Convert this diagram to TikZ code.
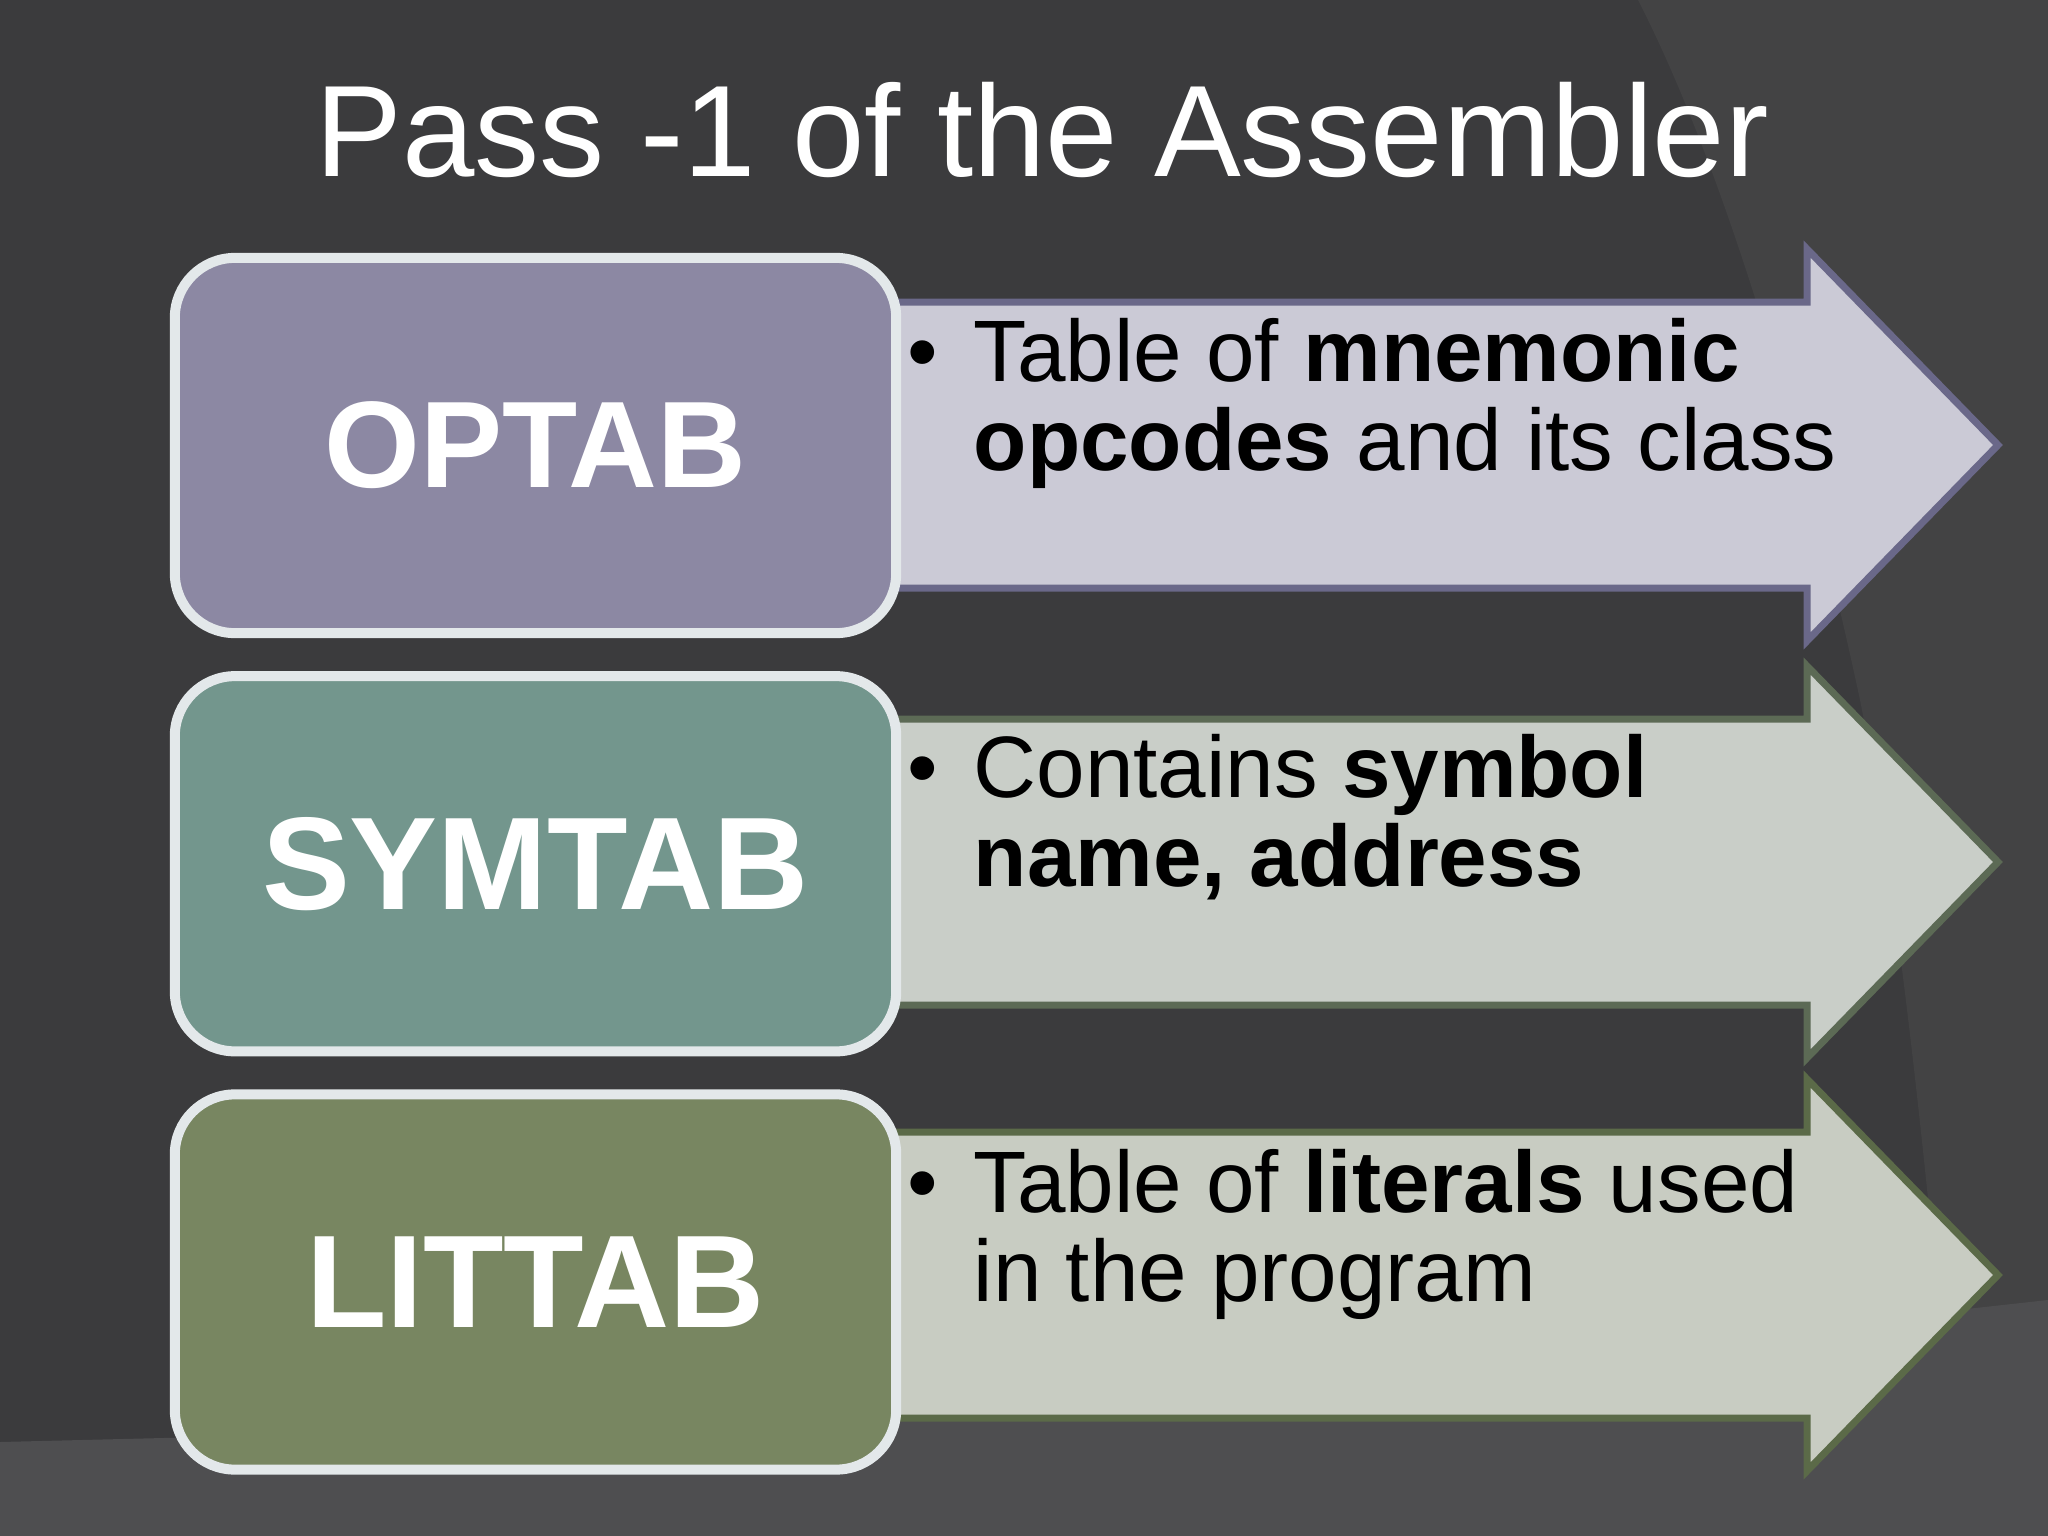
\documentclass[tikz,border=0pt]{standalone}
\usepackage{fontspec}
\setmainfont{Liberation Sans}
\usepackage{xcolor}
\usetikzlibrary{positioning}

\definecolor{slidebg}{HTML}{3B3B3D}
\definecolor{slidelight}{HTML}{434344}
\definecolor{slidefloor}{HTML}{4E4E50}
\definecolor{boxrim}{HTML}{E3E8EA}
\definecolor{optfill}{HTML}{8C88A3}
\definecolor{symfill}{HTML}{73968D}
\definecolor{litfill}{HTML}{788661}
\definecolor{optarrfill}{HTML}{CBCAD6}
\definecolor{optarrrim}{HTML}{6A6889}
\definecolor{symarrfill}{HTML}{C9CEC8}
\definecolor{symarrrim}{HTML}{5C6A55}
\definecolor{litarrfill}{HTML}{C8CCC2}
\definecolor{litarrrim}{HTML}{5B6A48}

\begin{document}
\begin{tikzpicture}[x=0.01cm,y=-0.01cm,node distance=0.33cm,
    tab/.style={draw=boxrim,line width=0.1cm,rounded corners=0.6cm,minimum width=7.21cm,minimum height=3.75cm,text=white,font=\bfseries\fontsize{37.5}{40}\selectfont},
    note/.style={anchor=north west,inner sep=0pt,align=left,font=\fontsize{24.8}{25.3}\selectfont},
    shaft/.style={line width=0.07cm,miter limit=20}]
  % slide background
  \fill[slidebg] (0,0) rectangle (2048,1536);
  \useasboundingbox (0,0) rectangle (2048,1536);
  \fill[slidelight] (1638,0) .. controls (1720,160) and (1800,420) .. (1860,700) .. controls (1900,900) and (1930,1200) .. (1960,1536) -- (2048,1536) -- (2048,0) -- cycle;
  \fill[slidefloor] (0,1442) -- (980,1418) -- (2048,1300) -- (2048,1536) -- (0,1536) -- cycle;

  \node[anchor=base,text=white,font=\fontsize{37}{40}\selectfont] (title) at (1042,176) {Pass -1 of the Assembler};

  % arrows behind the boxes
  \draw[shaft,draw=optarrrim,fill=optarrfill] (880,302) -- (1807,302) -- (1807,249) -- (1998,445) -- (1807,641) -- (1807,588) -- (880,588) -- cycle;
  \draw[shaft,draw=symarrrim,fill=symarrfill] (880,719) -- (1807,719) -- (1807,666) -- (1998,862) -- (1807,1058) -- (1807,1005) -- (880,1005) -- cycle;
  \draw[shaft,draw=litarrrim,fill=litarrfill] (880,1132) -- (1807,1132) -- (1807,1079) -- (1998,1275) -- (1807,1471) -- (1807,1418) -- (880,1418) -- cycle;

  \node[tab,fill=optfill,font=\bfseries\fontsize{35}{38}\selectfont] (optab) at (535.5,445.5) {OPTAB};
  \node[tab,fill=symfill,below=of optab] (symtab) {SYMTAB};
  \node[tab,fill=litfill,below=of symtab] (littab) {LITTAB};

  \node[note] (optnote) at (907,318) {\makebox[0.66cm][l]{\textbullet}Table of \textbf{mnemonic}\\\hspace*{0.66cm}\textbf{opcodes} and its class};
  \node[note] (symnote) at (907,734) {\makebox[0.66cm][l]{\textbullet}Contains \textbf{symbol}\\\hspace*{0.66cm}\textbf{name, address}};
  \node[note] (litnote) at (907,1149) {\makebox[0.66cm][l]{\textbullet}Table of \textbf{literals} used\\\hspace*{0.66cm}in the program};
\end{tikzpicture}
\end{document}
